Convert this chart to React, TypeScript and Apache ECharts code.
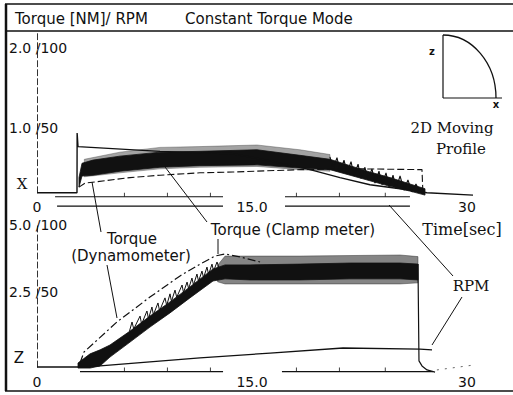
import { useEffect, useRef } from 'react';
import * as echarts from 'echarts';

// ---------- axis ticks ----------
const timeTickValues = [0, 15, 30];
const timeTickLabels = ['0', '15.0', '30'];
const xPanelTickValues = [1, 2];
const xPanelTickLabels = ['1.0 /50', '2.0 /100'];
const zPanelTickValues = [2.5, 5];
const zPanelTickLabels = ['2.5 /50', '5.0 /100'];

// ---------- upper panel: X-direction move ----------
const xDynamometer: [number, number][] = [
  [0, 0.18], [2.79, 0.18], [2.8, 0.93], [2.86, 0.76], [8.58, 0.7], [13.67, 0.67],
  [16.26, 0.58], [19.05, 0.47], [21.14, 0.37], [23.23, 0.28], [25.33, 0.23],
  [27.21, 0.18], [30.42, 0.15],
];
const xClampTime = [2.93, 3.14, 3.91, 5.79, 8.58, 11.37, 15.35, 18.35, 20.44, 21.84, 23.23, 24.63, 26.02, 27.07];
const xClampLow = [0.25, 0.39, 0.4, 0.45, 0.5, 0.52, 0.53, 0.49, 0.47, 0.4, 0.33, 0.26, 0.2, 0.15];
const xClampHigh = [0.37, 0.55, 0.59, 0.64, 0.69, 0.7, 0.72, 0.65, 0.6, 0.52, 0.44, 0.37, 0.29, 0.23];
const xHairTime = [3.3, 5.79, 8.58, 11.37, 15.35, 18.35, 20.44];
const xHairLow = [0.38, 0.43, 0.48, 0.5, 0.51, 0.47, 0.45];
const xHairHigh = [0.6, 0.69, 0.75, 0.76, 0.78, 0.72, 0.66];
const xClampRipple: [number, number][] = [
  [20.44, 0.63], [20.65, 0.48], [20.93, 0.62], [21.14, 0.45], [21.42, 0.59], [21.63, 0.43],
  [21.91, 0.57], [22.12, 0.39], [22.4, 0.54], [22.6, 0.36], [22.88, 0.5], [23.09, 0.34],
  [23.37, 0.48], [23.58, 0.3], [23.86, 0.45], [24.07, 0.28], [24.35, 0.43], [24.56, 0.25],
  [24.84, 0.4], [25.05, 0.23], [25.33, 0.39], [25.61, 0.21], [25.88, 0.34], [26.16, 0.19],
  [26.44, 0.29], [26.72, 0.18],
];
const xRpm: [number, number][] = [
  [2.93, 0.25], [3.35, 0.3], [6.49, 0.37], [8.58, 0.4], [11.37, 0.43], [13.67, 0.44],
  [18.35, 0.47], [22.53, 0.48], [26.86, 0.47], [26.93, 0.15],
];
const xTraceLevel = 0.13;
const xTraceSpans: [number, number][] = [[1.26, 12.98], [17.3, 26.02]];
const xZeroLevel = 0.01;
const xZeroSpans: [number, number][] = [[1.4, 12.98], [17.3, 26.02]];
const timeMarks = [6.1, 9.1, 12.1, 18.1, 21.1, 24.3];

// ---------- lower panel: Z-direction move ----------
const zRpm: [number, number][] = [
  [0, -0.3], [3.35, -0.3], [4.4, -0.26], [7.88, -0.11], [11.37, 0.04], [16.26, 0.22],
  [21.35, 0.41], [26.72, 0.37], [27.56, 0.34],
];
const zDynamometer: [number, number][] = [
  [3.0, -0.15], [3.28, 0.26], [5.58, 1.38], [7.88, 2.31], [9.98, 3.1], [11.37, 3.54],
  [12.42, 3.84], [13.12, 3.92], [14.16, 3.81], [15.56, 3.62],
];
const zClampTime = [2.86, 3.7, 4.4, 5.09, 6.49, 7.88, 9.28, 10.67, 12.28, 13.12, 14.86, 18.35, 21.84, 25.33, 26.58];
const zClampLow = [-0.34, -0.34, -0.26, 0.07, 0.63, 1.19, 1.72, 2.28, 2.91, 2.99, 2.95, 2.95, 2.99, 2.99, 2.95];
const zClampHigh = [-0.15, 0.19, 0.34, 0.52, 1.04, 1.6, 2.13, 2.69, 3.36, 3.51, 3.51, 3.54, 3.58, 3.58, 3.54];
const zHairTime = [12.6, 13.12, 18.35, 25.33, 26.58];
const zHairLow = [2.88, 2.8, 2.8, 2.8, 2.84];
const zHairHigh = [3.5, 3.84, 3.84, 3.88, 3.82];
const zRampSpikes: [number, number][] = [
  [6.45, 1.03], [6.63, 1.38], [6.75, 1.12], [7.19, 1.6], [7.3, 1.3], [7.67, 1.79], [7.78, 1.5],
  [8.02, 1.94], [8.12, 1.65], [8.44, 2.09], [8.55, 1.8], [8.93, 2.28], [9.05, 2.0], [9.28, 2.43],
  [9.38, 2.15], [9.63, 2.57], [9.75, 2.3], [10.12, 2.76], [10.22, 2.48], [10.47, 2.87],
  [10.58, 2.62], [10.81, 3.02], [10.92, 2.76], [11.16, 3.17], [11.27, 2.9], [11.51, 3.28],
  [11.62, 3.03], [11.86, 3.43], [11.97, 3.15], [12.21, 3.54], [12.32, 3.28], [12.56, 3.62],
  [12.7, 3.4],
];
const zClampDrop: [number, number][] = [
  [26.58, 3.54], [26.65, -0.07], [26.86, -0.26], [27.21, -0.41], [27.77, -0.49],
];
const zCoast: [number, number][] = [[27.9, -0.41], [30.56, -0.22]];
const zTraceLevel = -0.47;
const zTraceSpans: [number, number][] = [[3.0, 12.98], [17.09, 27.63]];

// ---------- helpers ----------
const INK = '#111';
const SANS = 'DejaVu Sans';
const SERIF = 'DejaVu Serif';

const spanData = (spans: [number, number][], level: number) =>
  spans.flatMap(([a, b]) => [[a, level], [b, level], [b, null]]);
const pick = (values: number[], labels: string[]) => (v: number) => {
  const i = values.findIndex((u) => Math.abs(u - v) < 1e-6);
  return i >= 0 ? labels[i] : '';
};

const line = (axis: number, data: any[], style: any) => ({
  type: 'line',
  xAxisIndex: axis,
  yAxisIndex: axis,
  data,
  symbol: 'none',
  silent: true,
  clip: false,
  lineStyle: { color: INK, width: 1.2, ...style },
});

// noisy trace envelope: filled polygon between its lower and upper bounds
const band = (axis: number, t: number[], lo: number[], hi: number[], color: string, opacity: number) => ({
  type: 'custom',
  xAxisIndex: axis,
  yAxisIndex: axis,
  coordinateSystem: 'cartesian2d',
  silent: true,
  clip: false,
  data: [[t[0], lo[0]]],
  renderItem: (_params: any, api: any) => {
    const upper = t.map((x, i) => api.coord([x, hi[i]]));
    const lower = t.map((x, i) => api.coord([x, lo[i]])).reverse();
    return {
      type: 'polygon',
      shape: { points: upper.concat(lower) },
      style: { fill: color, stroke: color, lineWidth: 0.8, opacity },
    };
  },
});

const ticks = (axis: number, level: number) => ({
  type: 'scatter',
  xAxisIndex: axis,
  yAxisIndex: axis,
  data: timeMarks.map((t) => [t, level]),
  symbol: 'rect',
  symbolSize: [1, 4],
  symbolOffset: [0, -2],
  itemStyle: { color: INK },
  silent: true,
  clip: false,
});

const txt = (text: string, x: number, y: number, size: number, family: string, extra: any = {}) => ({
  type: 'text',
  x,
  y,
  silent: true,
  style: { text, fontSize: size, fontFamily: family, fill: INK, align: 'center', verticalAlign: 'middle', ...extra },
});
const rule = (x1: number, y1: number, x2: number, y2: number, w = 1) => ({
  type: 'line',
  silent: true,
  shape: { x1, y1, x2, y2 },
  style: { stroke: INK, lineWidth: w },
});

const timeAxis = (grid: number, margin: number) => ({
  type: 'value',
  gridIndex: grid,
  min: 0,
  max: 31,
  interval: 15,
  axisLine: { show: false },
  axisTick: { show: false },
  splitLine: { show: false },
  axisLabel: {
    customValues: timeTickValues,
    formatter: pick(timeTickValues, timeTickLabels),
    margin,
    verticalAlign: 'middle',
    fontSize: 14,
    fontFamily: SANS,
    color: INK,
  },
});

const valueAxis = (grid: number, min: number, max: number, values: number[], labels: string[]) => ({
  type: 'value',
  gridIndex: grid,
  min,
  max,
  offset: 2,
  axisLine: { show: true, lineStyle: { color: '#333', width: 1, type: [6, 3] } },
  axisTick: { show: false },
  splitLine: { show: false },
  axisLabel: {
    customValues: values,
    formatter: pick(values, labels),
    align: 'left',
    margin: 26,
    fontSize: 14,
    fontFamily: SANS,
    color: INK,
  },
});

export default function App() {
  const ref = useRef<HTMLDivElement>(null);

  useEffect(() => {
    if (!ref.current) return;
    const chart = echarts.init(ref.current, null, { renderer: 'svg' });
    const titleStyle = { fontSize: 15, fontWeight: 'normal', fontFamily: SANS, color: INK };

    chart.setOption({
      animation: false,
      backgroundColor: '#fff',
      textStyle: { fontFamily: SANS },
      title: [
        { text: 'Torque [NM]/ RPM', left: 15, top: 11, padding: 0, textStyle: titleStyle },
        { text: 'Constant Torque Mode', left: 185, top: 11, padding: 0, textStyle: titleStyle },
      ],
      grid: [
        { left: 37, top: 32.1, width: 444.33, height: 160.6, outerBoundsMode: 'none' },
        { left: 37, top: 225, width: 444.33, height: 142, outerBoundsMode: 'none' },
      ],
      xAxis: [timeAxis(0, 14), timeAxis(1, 15)],
      yAxis: [
        valueAxis(0, 0.18, 2.2, xPanelTickValues, xPanelTickLabels),
        valueAxis(1, -0.3, 5.0, zPanelTickValues, zPanelTickLabels),
      ],
      series: [
        // upper panel
        line(0, spanData(xZeroSpans, xZeroLevel), { width: 1.3 }),
        line(0, spanData(xTraceSpans, xTraceLevel), { width: 1.1 }),
        ticks(0, xTraceLevel),
        band(0, xHairTime, xHairLow, xHairHigh, '#333', 0.45),
        band(0, xClampTime, xClampLow, xClampHigh, INK, 1),
        line(0, xClampRipple, { width: 1.1 }),
        line(0, xDynamometer, { width: 1.4 }),
        line(0, xRpm, { width: 1.1, type: [7, 3] }),
        // lower panel
        line(1, spanData(zTraceSpans, zTraceLevel), { width: 1.3 }),
        ticks(1, zTraceLevel),
        band(1, zHairTime, zHairLow, zHairHigh, '#333', 0.6),
        band(1, zClampTime, zClampLow, zClampHigh, INK, 1),
        line(1, zRampSpikes, { width: 1 }),
        line(1, zClampDrop, { width: 1.2 }),
        line(1, zDynamometer, { width: 1.2, type: [8, 3, 2, 3] }),
        line(1, zRpm, { width: 1.3 }),
        line(1, zCoast, { width: 1, type: [2, 6], color: '#666' }),
      ],
      graphic: [
        // frame
        rule(6, 4, 6, 391, 2.5),
        rule(5, 4, 513, 4, 1.5),
        rule(5, 31, 513, 31, 1.5),
        rule(5, 391, 513, 391, 1.5),
        // 2D moving profile sketch
        rule(443, 35, 443, 98, 1.2),
        rule(443, 98, 502, 98, 1.2),
        {
          type: 'bezierCurve',
          silent: true,
          shape: { x1: 443, y1: 35, cpx1: 472, cpy1: 35, cpx2: 496, cpy2: 63, x2: 496, y2: 98 },
          style: { stroke: INK, lineWidth: 1.3, fill: 'none' },
        },
        txt('z', 432, 51, 10, SANS, { fontWeight: 'bold' }),
        txt('x', 496, 104, 10, SANS, { fontWeight: 'bold' }),
        txt('2D Moving', 452, 128, 15, SERIF),
        txt('Profile', 461, 149, 15, SERIF),
        // panel letters
        txt('X', 22, 184, 15, SERIF),
        txt('Z', 19, 358, 15, SANS),
        // annotations
        txt('Time[sec]', 462, 229, 16, SERIF),
        txt('Torque', 132, 239, 15, SANS),
        txt('(Dynamometer)', 131, 256, 15, SANS),
        txt('Torque (Clamp meter)', 293, 230, 15, SANS),
        txt('RPM', 471, 286, 15, SERIF),
        // leader lines
        rule(92, 182, 101, 232, 1),
        rule(107, 265, 117, 318, 1),
        rule(162, 163, 207, 222, 1),
        rule(218, 239, 218, 254, 1),
        rule(389, 205, 453, 276, 1),
        rule(462, 297, 432, 345, 1),
      ],
    });
    return () => chart.dispose();
  }, []);

  return (
    <div
      ref={ref}
      style={{ position: 'fixed', left: 0, top: 0, width: 513, height: 395, background: '#fff' }}
    />
  );
}
